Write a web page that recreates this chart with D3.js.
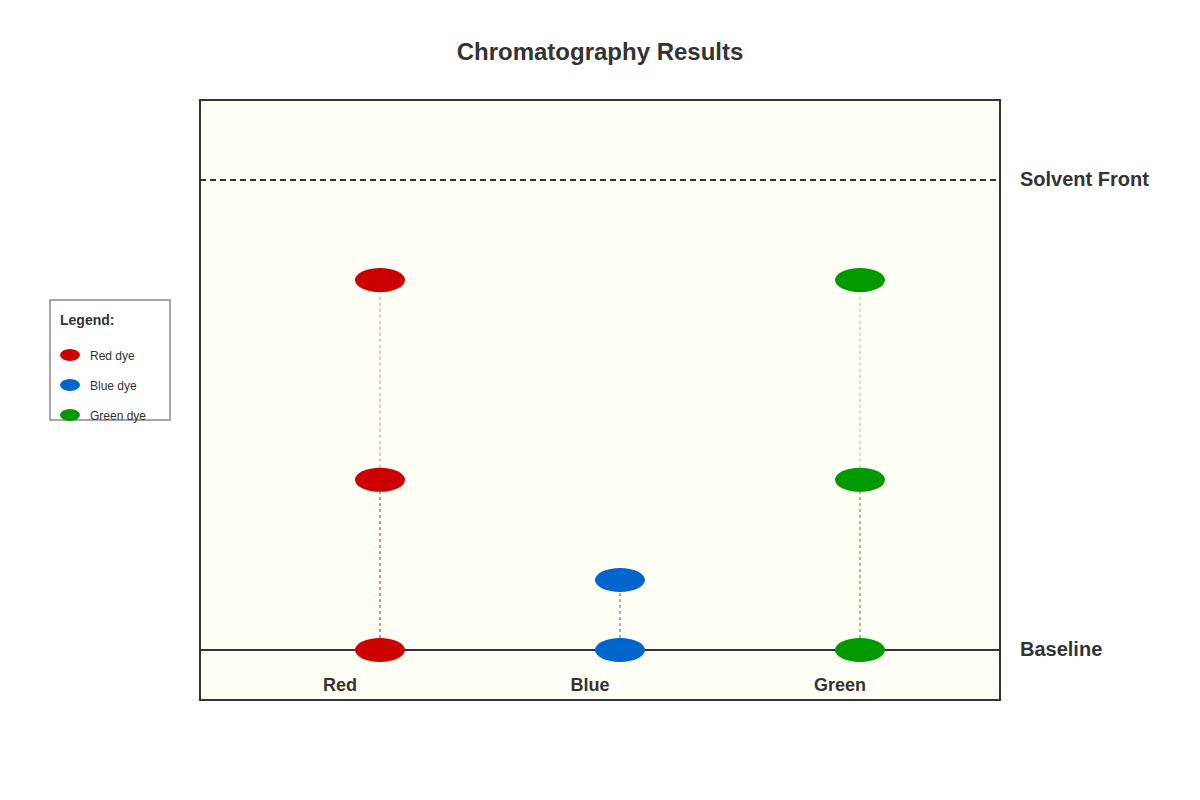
<!DOCTYPE html>
<html><head><meta charset="utf-8">
<script src="https://cdn.jsdelivr.net/npm/d3@7"></script>
<style>body{margin:0;background:#fff;font-family:"Liberation Sans",Arial,sans-serif}</style>
</head><body><svg id="c" width="1200" height="800"></svg>
<script>
const samples = ["Red", "Blue", "Green"];
const sampleColors = ["#cc0000", "#0066cc", "#009900"];
const legendLabels = ["Red dye", "Blue dye", "Green dye"];
// Rf values of spots per sample (0 = baseline, 1 = solvent front)
const redSpots = [0, 0.362, 0.787];
const blueSpots = [0, 0.149];
const greenSpots = [0, 0.362, 0.787];
const allSpots = [redSpots, blueSpots, greenSpots];

const svg = d3.select("#c");
const x = d3.scalePoint().domain(samples).range([380, 860]);
const y = d3.scaleLinear().domain([0, 1]).range([650, 180]);

svg.append("text").attr("x", 600).attr("y", 60).attr("text-anchor", "middle")
  .attr("font-size", 24).attr("font-weight", "bold").attr("fill", "#333").text("Chromatography Results");

svg.append("rect").attr("x", 200).attr("y", 100).attr("width", 800).attr("height", 600)
  .attr("fill", "#fffff5").attr("stroke", "#333").attr("stroke-width", 2);

svg.append("line").attr("x1", 200).attr("x2", 1000).attr("y1", y(1)).attr("y2", y(1))
  .attr("stroke", "#333").attr("stroke-width", 2).attr("stroke-dasharray", "6,4");
svg.append("line").attr("x1", 200).attr("x2", 1000).attr("y1", y(0)).attr("y2", y(0))
  .attr("stroke", "#333").attr("stroke-width", 2);
svg.append("text").attr("x", 1020).attr("y", y(1) + 6).attr("font-size", 20).attr("font-weight", "bold").attr("fill", "#333").text("Solvent Front");
svg.append("text").attr("x", 1020).attr("y", y(0) + 6).attr("font-size", 20).attr("font-weight", "bold").attr("fill", "#333").text("Baseline");

samples.forEach((s, i) => {
  const spots = allSpots[i], c = sampleColors[i];
  for (let k = 1; k < spots.length; k++) {
    svg.append("line").attr("x1", x(s)).attr("x2", x(s))
      .attr("y1", y(spots[k - 1])).attr("y2", y(spots[k]))
      .attr("stroke", c).attr("stroke-width", 1.5).attr("stroke-dasharray", "3,3")
      .attr("opacity", k === 1 ? 0.6 : 0.3);
  }
  svg.selectAll(null).data(spots).enter().append("ellipse")
    .attr("cx", x(s)).attr("cy", d => y(d)).attr("rx", 25).attr("ry", 12).attr("fill", c);
  svg.append("text").attr("x", x(s) - 40 + i * 10).attr("y", 691).attr("text-anchor", "middle")
    .attr("font-size", 18).attr("font-weight", "bold").attr("fill", "#333").text(s);
});

const lg = svg.append("g");
lg.append("rect").attr("x", 50).attr("y", 300).attr("width", 120).attr("height", 120)
  .attr("fill", "#fff").attr("stroke", "#888").attr("stroke-width", 1.5);
lg.append("text").attr("x", 60).attr("y", 325).attr("font-size", 14).attr("font-weight", "bold").attr("fill", "#333").text("Legend:");
legendLabels.forEach((l, i) => {
  lg.append("ellipse").attr("cx", 70).attr("cy", 355 + i * 30).attr("rx", 10).attr("ry", 6).attr("fill", sampleColors[i]);
  lg.append("text").attr("x", 90).attr("y", 360 + i * 30).attr("font-size", 12).attr("fill", "#333").text(l);
});
</script></body></html>
